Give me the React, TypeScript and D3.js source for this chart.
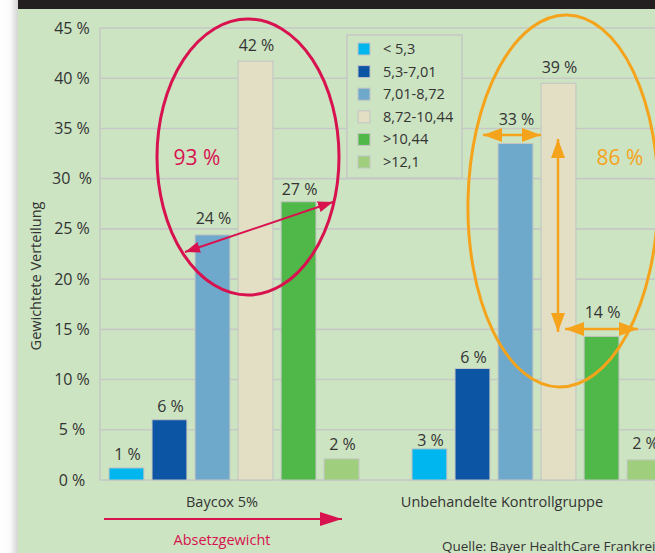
import React from "react";
import * as d3 from "d3";

// ---------- data ----------
const groups = ["Baycox 5%", "Unbehandelte Kontrollgruppe"];
const classes = ["< 5,3", "5,3-7,01", "7,01-8,72", "8,72-10,44", ">10,44", ">12,1"];
const baycoxValues = [1.2, 6.0, 24.4, 41.7, 27.7, 2.1];
const kontrollValues = [3.1, 11.1, 33.5, 39.5, 14.3, 2.0];
const baycoxLabels = ["1 %", "6 %", "24 %", "42 %", "27 %", "2 %"];
const kontrollLabels = ["3 %", "6 %", "33 %", "39 %", "14 %", "2 %"];
const classColors = ["#00b6ee", "#0b55a4", "#6ea9cb", "#e2dfc5", "#50b848", "#9fcf7d"];
const yTicks = [0, 5, 10, 15, 20, 25, 30, 35, 40, 45];
const yTickLabels = ["0 %", "5 %", "10 %", "15 %", "20 %", "25 %", "30  %", "35 %", "40 %", "45 %"];
const yAxisTitle = "Gewichtete Verteilung";
const baycoxSum = "93 %";
const kontrollSum = "86 %";
const arrowLabel = "Absetzgewicht";
const sourceText = "Quelle: Bayer HealthCare Frankreich";

// ---------- layout ----------
const W = 655;
const H = 553;
const FONT = "'Open Sans', 'Noto Sans', sans-serif";
const TEXT = "#333333";
const GRID = "#c6c8c5";
const BG = "#cce4c2";
const RED = "#d8124f";
const ORANGE = "#f6a31c";
const plotLeft = 100;
const plotRight = W;
const labelGaps = [
  [8, 8, 11, 10, 7, 9],
  [3, 6, 19, 10, 18, 11],
];
const groupLabelShift = [-12, -35];

export default function App() {
  const y = d3.scaleLinear().domain([0, 45]).range([480, 28]);
  const x0 = d3.scaleBand<string>().domain(groups).range([109, 109 + 606]).paddingInner(0).paddingOuter(0);
  const x1 = d3.scaleBand<string>().domain(classes).range([0, 250]).paddingInner(0.19).paddingOuter(0);

  const series = [
    { group: groups[0], values: baycoxValues, labels: baycoxLabels },
    { group: groups[1], values: kontrollValues, labels: kontrollLabels },
  ];

  const legendX = 347;
  const legendY = 35;
  const rowH = 22.6;

  return (
    <div style={{ position: "absolute", left: 0, top: 0 }}>
      <svg width={W} height={H} style={{ display: "block", fontFamily: FONT }}>
        <defs>
          <linearGradient id="shade" x1="0" x2="1" y1="0" y2="0">
            <stop offset="0%" stopColor="#ffffff" />
            <stop offset="55%" stopColor="#fbfbfb" />
            <stop offset="100%" stopColor="#d4d4d4" />
          </linearGradient>
          <marker id="hRed" markerUnits="userSpaceOnUse" markerWidth="16" markerHeight="11" refX="15" refY="5.5" orient="auto-start-reverse">
            <path d="M0,0 L15,5.5 L0,11 Z" fill={RED} />
          </marker>
          <marker id="hRedBig" markerUnits="userSpaceOnUse" markerWidth="23" markerHeight="14" refX="22" refY="7" orient="auto-start-reverse">
            <path d="M0,0 L22,7 L0,14 Z" fill={RED} />
          </marker>
          <marker id="hOr" markerUnits="userSpaceOnUse" markerWidth="20" markerHeight="14" refX="19" refY="7" orient="auto-start-reverse">
            <path d="M0,0 L19,7 L0,14 Z" fill={ORANGE} />
          </marker>
        </defs>

        {/* page background */}
        <rect x={0} y={0} width={18} height={H} fill="url(#shade)" />
        <rect x={18} y={0} width={W - 18} height={H} fill={BG} />
        <rect x={18} y={0} width={W - 18} height={9} fill="#231f20" />

        {/* grid */}
        {yTicks.map((t) => (
          <line key={t} x1={plotLeft} x2={plotRight} y1={y(t)} y2={y(t)} stroke={GRID} strokeWidth={1.6} />
        ))}
        <line x1={plotLeft} x2={plotLeft} y1={y(45)} y2={y(0)} stroke={GRID} strokeWidth={1.6} />

        {/* y tick labels */}
        {yTicks.map((t, i) => (
          <text key={t} x={72} y={y(t)} dy="0.35em" textAnchor="middle" fontSize={16} fill={TEXT} style={{ whiteSpace: "pre" }}>
            {yTickLabels[i]}
          </text>
        ))}
        <text transform={`translate(36,276) rotate(-90)`} textAnchor="middle" dy="0.35em" fontSize={14.5} fill={TEXT}>
          {yAxisTitle}
        </text>

        {/* legend */}
        <rect x={legendX} y={legendY} width={115} height={143} fill={BG} stroke={GRID} strokeWidth={1.6} />
        {classes.map((c, i) => (
          <g key={c}>
            <rect x={legendX + 11} y={legendY + 14 + i * rowH - 6} width={12} height={12} fill={classColors[i]} stroke="#c4c4c4" strokeWidth={1} />
            <text x={legendX + 36} y={legendY + 14 + i * rowH} dy="0.35em" fontSize={14.5} fill={TEXT}>
              {c}
            </text>
          </g>
        ))}

        {/* bars */}
        {series.map((s, gi) => (
          <g key={s.group} transform={`translate(${x0(s.group)},0)`}>
            {classes.map((c, i) => (
              <g key={c}>
                <rect
                  x={x1(c)}
                  y={y(s.values[i])}
                  width={x1.bandwidth()}
                  height={y(0) - y(s.values[i])}
                  fill={classColors[i]}
                  stroke="#c2c4c2"
                  strokeWidth={1}
                />
                <text
                  x={(x1(c) as number) + x1.bandwidth() / 2 + 1}
                  y={y(s.values[i]) - labelGaps[gi][i]}
                  textAnchor="middle"
                  fontSize={16}
                  fill={TEXT}
                >
                  {s.labels[i]}
                </text>
              </g>
            ))}
            <text x={125 + groupLabelShift[gi]} y={507} textAnchor="middle" fontSize={14.5} fill={TEXT}>
              {s.group}
            </text>
          </g>
        ))}

        {/* red annotation */}
        <ellipse cx={248} cy={157} rx={91} ry={138} fill="none" stroke={RED} strokeWidth={3} />
        <text x={197} y={165} textAnchor="middle" fontSize={21} fill={RED}>
          {baycoxSum}
        </text>
        <line x1={185} y1={252} x2={333} y2={202} stroke={RED} strokeWidth={2} markerStart="url(#hRed)" markerEnd="url(#hRed)" />

        {/* orange annotation */}
        <ellipse cx={563} cy={201} rx={95} ry={186} fill="none" stroke={ORANGE} strokeWidth={3} transform="rotate(1.3,563,201)" />
        <text x={620} y={165} textAnchor="middle" fontSize={21} fill={ORANGE}>
          {kontrollSum}
        </text>
        <line x1={483} y1={135} x2={541} y2={135} stroke={ORANGE} strokeWidth={2.5} markerStart="url(#hOr)" markerEnd="url(#hOr)" />
        <line x1={558} y1={139} x2={558} y2={332} stroke={ORANGE} strokeWidth={2.5} markerStart="url(#hOr)" markerEnd="url(#hOr)" />
        <line x1={565} y1={329} x2={638} y2={329} stroke={ORANGE} strokeWidth={2.5} markerStart="url(#hOr)" markerEnd="url(#hOr)" />

        {/* bottom arrow */}
        <line x1={104} y1={519} x2={342} y2={519} stroke={RED} strokeWidth={2.2} markerEnd="url(#hRedBig)" />
        <text x={222} y={545} textAnchor="middle" fontSize={14.5} fill={RED}>
          {arrowLabel}
        </text>
        <text x={442} y={551} fontSize={13.5} fill={TEXT}>
          {sourceText}
        </text>
      </svg>
    </div>
  );
}
